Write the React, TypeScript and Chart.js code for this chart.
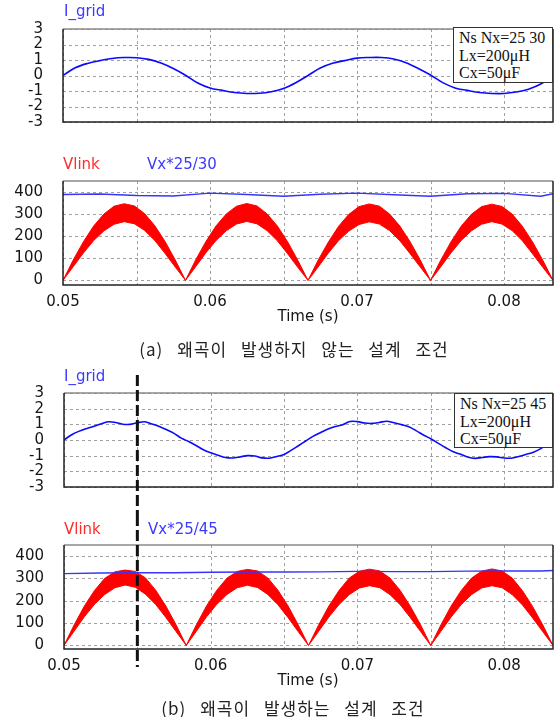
import React, { useEffect, useRef } from "react";
import { Chart, registerables } from "chart.js";

Chart.register(...registerables);

// ---------- axes ----------
const xMinS = 0.05;
const xMaxS = 0.083333;
const xGridTicks = [0.05, 0.055, 0.06, 0.065, 0.07, 0.075, 0.08];
const xTickLabels = ["0.05", "", "0.06", "", "0.07", "", "0.08"];
const iTicks = [-3, -2, -1, 0, 1, 2, 3];
const vTicks = [0, 100, 200, 300, 400];
const markerTimeS = 0.055;

// ---------- I_grid (a) ----------
const iGridATimesMs = [0, 0.833, 1.667, 2.5, 3.333, 4.167, 5, 5.833, 6.667, 7.5, 8.333, 9.167, 10, 10.833, 11.667, 12.5, 13.333, 14.167, 15, 15.833, 16.667, 17.5, 18.333, 19.167, 20, 20.833, 21.667, 22.5, 23.333, 24.167, 25, 25.833, 26.667, 27.5, 28.333, 29.167, 30, 30.833, 31.667, 32.5, 33.333];
const iGridA = [0, 0.5, 0.78, 0.96, 1.1, 1.16, 1.15, 1.04, 0.8, 0.45, 0.02, -0.48, -0.8, -0.96, -1.1, -1.16, -1.15, -1.05, -0.84, -0.47, 0.0, 0.48, 0.79, 0.96, 1.12, 1.16, 1.16, 1.06, 0.82, 0.45, 0.03, -0.46, -0.8, -0.96, -1.1, -1.16, -1.16, -1.07, -0.88, -0.55, 0.0];

// ---------- I_grid (b) ----------
const iGridBTimesMs = [0, 0.5, 1, 1.5, 2, 2.5, 3, 3.5, 4, 4.5, 5, 5.5, 6, 6.5, 7, 7.5, 8, 8.5, 9, 9.5, 10, 10.5, 11, 11.5, 12, 12.5, 13, 13.5, 14, 14.5, 15, 15.5, 16, 16.5, 17, 17.5, 18, 18.5, 19, 19.5, 20, 20.5, 21, 21.5, 22, 22.5, 23, 23.5, 24, 24.5, 25, 25.5, 26, 26.5, 27, 27.5, 28, 28.5, 29, 29.5, 30, 30.5, 31, 31.5, 32, 32.5, 33, 33.333];
const iGridB = [0, 0.32, 0.55, 0.72, 0.86, 1.02, 1.16, 1.12, 1.01, 1.0, 1.1, 1.16, 1.02, 0.86, 0.65, 0.42, 0.12, -0.1, -0.35, -0.62, -0.82, -0.98, -1.12, -1.15, -1.08, -1.0, -1.02, -1.14, -1.16, -1.05, -0.92, -0.65, -0.35, -0.05, 0.25, 0.48, 0.7, 0.86, 0.98, 1.18, 1.17, 1.08, 1.06, 1.12, 1.2, 1.1, 0.98, 0.85, 0.6, 0.32, 0.08, -0.2, -0.48, -0.74, -0.9, -1.08, -1.17, -1.12, -1.06, -1.08, -1.15, -1.16, -1.05, -0.92, -0.78, -0.55, -0.25, 0];

// ---------- Vlink envelopes ----------
const vlinkTimesMs = [0, 0.694, 1.389, 2.083, 2.778, 3.472, 4.167, 4.861, 5.556, 6.25, 6.944, 7.639, 8.333, 9.028, 9.722, 10.417, 11.111, 11.806, 12.5, 13.194, 13.889, 14.583, 15.278, 15.972, 16.667, 17.361, 18.056, 18.75, 19.444, 20.139, 20.833, 21.528, 22.222, 22.917, 23.611, 24.306, 25, 25.694, 26.389, 27.083, 27.778, 28.472, 29.167, 29.861, 30.556, 31.25, 31.944, 32.639, 33.333];
const vlinkUpperA = [0, 92, 175, 246, 300, 336, 347, 337, 302, 247, 176, 92, 0, 93, 176, 247, 301, 336, 348, 337, 301, 246, 175, 91, 0, 92, 174, 245, 299, 334, 346, 336, 300, 246, 175, 92, 0, 91, 174, 245, 299, 334, 345, 335, 300, 245, 174, 91, 0];
const vlinkLowerA = [0, 62, 124, 180, 224, 254, 266, 256, 226, 180, 122, 60, 0, 62, 125, 181, 225, 255, 267, 256, 225, 179, 121, 59, 0, 61, 124, 180, 223, 253, 265, 255, 225, 179, 121, 60, 0, 61, 124, 180, 224, 254, 266, 255, 225, 179, 120, 59, 0];
const vlinkUpperB = [0, 92, 176, 246, 300, 329, 337, 331, 302, 247, 176, 92, 0, 93, 177, 247, 301, 331, 340, 333, 302, 247, 176, 91, 0, 92, 176, 246, 301, 332, 341, 333, 301, 246, 175, 92, 0, 92, 176, 246, 301, 332, 342, 333, 301, 245, 174, 91, 0];
const vlinkLowerB = [0, 64, 128, 184, 228, 258, 270, 260, 229, 183, 125, 62, 0, 64, 128, 184, 228, 258, 269, 259, 228, 182, 124, 61, 0, 63, 127, 183, 227, 257, 267, 258, 227, 182, 124, 62, 0, 63, 127, 183, 227, 257, 267, 258, 227, 181, 123, 61, 0];

// ---------- Vx ----------
const vxTimesMs = [0, 2.5, 5, 7.5, 10, 12.5, 15, 17.5, 20, 22.5, 25, 27.5, 30, 32.5, 33.333];
const vxA = [389, 391, 384, 382, 395, 389, 381, 390, 395, 388, 381, 392, 394, 381, 392];
const vxB = [321, 324, 325, 325, 327, 328, 328, 329, 331, 330, 330, 332, 333, 333, 335];

const FONT = '"DejaVu Sans", sans-serif';

function pts(timesMs: number[], values: number[]) {
  return values.map((v, i) => ({ x: xMinS + timesMs[i] / 1000, y: v }));
}

const gridPlugin = {
  id: "dashgrid",
  beforeDatasetsDraw(chart: any) {
    const { left, top, right, bottom } = chart.chartArea;
    const ctx = chart.ctx;
    ctx.save();
    ctx.strokeStyle = "#a0a0a0";
    ctx.lineWidth = 1;
    ctx.setLineDash([3, 3]);
    for (const t of chart.scales.x.ticks) {
      const x = Math.round(chart.scales.x.getPixelForValue(t.value)) + 0.5;
      ctx.beginPath();
      ctx.moveTo(x, top);
      ctx.lineTo(x, bottom);
      ctx.stroke();
    }
    for (const t of chart.scales.y.ticks) {
      const y = Math.round(chart.scales.y.getPixelForValue(t.value)) + 0.5;
      ctx.beginPath();
      ctx.moveTo(left, y);
      ctx.lineTo(right, y);
      ctx.stroke();
    }
    ctx.restore();
  },
};

const framePlugin = {
  id: "frame",
  afterDraw(chart: any) {
    const { left, top, right, bottom } = chart.chartArea;
    const ctx = chart.ctx;
    ctx.save();
    ctx.lineWidth = 1.5;
    ctx.strokeStyle = "#8a8a8a";
    ctx.beginPath();
    ctx.moveTo(left, top);
    ctx.lineTo(right, top);
    ctx.stroke();
    ctx.strokeStyle = "#222";
    ctx.beginPath();
    ctx.moveTo(left, top);
    ctx.lineTo(left, bottom);
    ctx.lineTo(right, bottom);
    ctx.lineTo(right, top);
    ctx.stroke();
    ctx.restore();
  },
};

const markerPlugin = {
  id: "marker",
  afterDraw(chart: any, _args: any, opts: any) {
    if (!opts || opts.value == null) return;
    const x = chart.scales.x.getPixelForValue(opts.value);
    const ctx = chart.ctx;
    ctx.save();
    ctx.strokeStyle = "#111";
    ctx.lineWidth = 3;
    ctx.setLineDash([11, 4]);
    ctx.lineDashOffset = opts.offset || 0;
    ctx.beginPath();
    ctx.moveTo(x, opts.from);
    ctx.lineTo(x, opts.to == null ? chart.height : opts.to);
    ctx.stroke();
    ctx.restore();
  },
};

function buildConfig(p: {
  datasets: any[];
  yMin: number;
  yMax: number;
  yTicks: number[];
  axisWidth: number;
  padTop: number;
  padBottom: number;
  xAxisHeight: number;
  showX: boolean;
  marker?: any;
}) {
  const plugins: any[] = [gridPlugin, framePlugin];
  if (p.marker) plugins.push(markerPlugin);
  const gridCommon = { display: false, drawTicks: false };
  const borderCommon = { display: false };
  return {
    type: "line",
    data: { datasets: p.datasets },
    options: {
      responsive: false,
      maintainAspectRatio: false,
      animation: false,
      events: [],
      layout: { padding: { left: 0, right: 4, top: p.padTop, bottom: p.padBottom } },
      plugins: {
        legend: { display: false },
        tooltip: { enabled: false },
        marker: p.marker || {},
      },
      scales: {
        x: {
          type: "linear",
          min: xMinS,
          max: xMaxS,
          afterBuildTicks: (ax: any) => {
            ax.ticks = xGridTicks.map((v) => ({ value: v }));
          },
          afterFit: (ax: any) => {
            ax.height = p.xAxisHeight;
          },
          grid: gridCommon,
          border: borderCommon,
          ticks: {
            display: p.showX,
            autoSkip: false,
            maxRotation: 0,
            padding: 8,
            color: "#151515",
            font: { family: FONT, size: 15 },
            callback: (_v: any, i: number) => xTickLabels[i],
          },
        },
        y: {
          type: "linear",
          min: p.yMin,
          max: p.yMax,
          afterBuildTicks: (ax: any) => {
            ax.ticks = p.yTicks.map((v) => ({ value: v }));
          },
          afterFit: (ax: any) => {
            ax.width = p.axisWidth;
          },
          grid: gridCommon,
          border: borderCommon,
          ticks: {
            autoSkip: false,
            padding: 20,
            color: "#151515",
            font: { family: FONT, size: 15 },
            callback: (v: any) => String(v),
          },
        },
      },
    },
    plugins,
  };
}

function iGridDataset(times: number[], vals: number[]) {
  return {
    data: pts(times, vals),
    borderColor: "#0a0aff",
    borderWidth: 1.6,
    pointRadius: 0,
    tension: 0.35,
    fill: false,
  };
}

function vlinkDatasets(vx: number[], upper: number[], lower: number[]) {
  return [
    {
      data: pts(vxTimesMs, vx),
      borderColor: "#3535ff",
      borderWidth: 1.4,
      pointRadius: 0,
      tension: 0,
      fill: false,
    },
    {
      data: pts(vlinkTimesMs, upper),
      borderColor: "#ff0000",
      backgroundColor: "#ff0000",
      borderWidth: 1,
      pointRadius: 0,
      tension: 0,
      fill: "+1",
    },
    {
      data: pts(vlinkTimesMs, lower),
      borderColor: "#ff0000",
      borderWidth: 1,
      pointRadius: 0,
      tension: 0,
      fill: false,
    },
  ];
}

function ChartBox({ top, height, build }: { top: number; height: number; build: () => any }) {
  const ref = useRef<HTMLCanvasElement>(null);
  useEffect(() => {
    const chart = new Chart(ref.current as HTMLCanvasElement, build());
    return () => chart.destroy();
  }, []);
  return (
    <canvas
      ref={ref}
      width={557}
      height={height}
      style={{ position: "absolute", left: 0, top, width: 557, height }}
    />
  );
}

function Label({ text, left, cy, color }: { text: string; left: number; cy: number; color: string }) {
  return (
    <div
      style={{
        position: "absolute",
        left,
        top: cy - 9,
        font: `15px ${FONT}`,
        lineHeight: "18px",
        color,
        whiteSpace: "nowrap",
      }}
    >
      {text}
    </div>
  );
}

function Centered({ text, cx, cy, style }: { text: string; cx: number; cy: number; style: any }) {
  return (
    <div
      style={{
        position: "absolute",
        left: cx,
        top: cy - 12,
        lineHeight: "24px",
        transform: "translateX(-50%)",
        whiteSpace: "pre",
        ...style,
      }}
    >
      {text}
    </div>
  );
}

function ParamBox({ left, top, width, height, lines }: { left: number; top: number; width: number; height: number; lines: string[] }) {
  return (
    <div
      style={{
        position: "absolute",
        left,
        top,
        width,
        height,
        boxSizing: "border-box",
        border: "1.5px solid #333",
        background: "#fff",
        padding: "1px 0 0 5px",
        font: '16px "Liberation Serif", serif',
        lineHeight: "17.5px",
        color: "#111",
        whiteSpace: "nowrap",
      }}
    >
      {lines.map((l, i) => (
        <div key={i}>{l}</div>
      ))}
    </div>
  );
}

const captionStyle = {
  font: '17px "Noto Sans CJK KR", sans-serif',
  letterSpacing: "1px",
  wordSpacing: "9px",
  color: "#222",
};
const timeStyle = { font: `15px ${FONT}`, color: "#151515" };

export default function App() {
  return (
    <div
      style={{
        position: "fixed",
        left: 0,
        top: 0,
        width: 557,
        height: 717,
        background: "#fff",
        overflow: "hidden",
      }}
    >
      {/* (a) I_grid */}
      <ChartBox
        top={0}
        height={151}
        build={() =>
          buildConfig({
            datasets: [iGridDataset(iGridATimesMs, iGridA)],
            yMin: -3,
            yMax: 3,
            yTicks: iTicks,
            axisWidth: 63,
            padTop: 27,
            padBottom: 12,
            xAxisHeight: 0,
            showX: false,
          })
        }
      />
      {/* (a) Vlink */}
      <ChartBox
        top={150}
        height={165}
        build={() =>
          buildConfig({
            datasets: vlinkDatasets(vxA, vlinkUpperA, vlinkLowerA),
            yMin: -21,
            yMax: 450,
            yTicks: vTicks,
            axisWidth: 63,
            padTop: 31,
            padBottom: 0,
            xAxisHeight: 30,
            showX: true,
          })
        }
      />
      {/* (b) I_grid */}
      <ChartBox
        top={360}
        height={156}
        build={() =>
          buildConfig({
            datasets: [iGridDataset(iGridBTimesMs, iGridB)],
            yMin: -3,
            yMax: 3,
            yTicks: iTicks,
            axisWidth: 64,
            padTop: 33,
            padBottom: 12,
            xAxisHeight: 0,
            showX: false,
            marker: { value: markerTimeS, from: 15, to: null, offset: 0 },
          })
        }
      />
      {/* (b) Vlink */}
      <ChartBox
        top={516}
        height={163}
        build={() =>
          buildConfig({
            datasets: vlinkDatasets(vxB, vlinkUpperB, vlinkLowerB),
            yMin: -16,
            yMax: 449,
            yTicks: vTicks,
            axisWidth: 64,
            padTop: 29,
            padBottom: 0,
            xAxisHeight: 30,
            showX: true,
            marker: { value: markerTimeS, from: 0, to: 151, offset: 1 },
          })
        }
      />

      <Label text="I_grid" left={64} cy={11} color="#3a3aff" />
      <Label text="Vlink" left={63} cy={164} color="#ff2a2a" />
      <Label text="Vx*25/30" left={147} cy={164} color="#3a3aff" />
      <ParamBox left={453} top={27} width={100} height={56} lines={["Ns Nx=25 30", "Lx=200μH", "Cx=50μF"]} />
      <Centered text="Time (s)" cx={308} cy={319} style={timeStyle} />
      <Centered text="(a) 왜곡이 발생하지 않는 설계 조건" cx={294} cy={348} style={captionStyle} />

      <Label text="I_grid" left={64} cy={376} color="#3a3aff" />
      <Label text="Vlink" left={64} cy={529} color="#ff2a2a" />
      <Label text="Vx*25/45" left={148} cy={529} color="#3a3aff" />
      <ParamBox left={454} top={393} width={99} height={55} lines={["Ns Nx=25 45", "Lx=200μH", "Cx=50μF"]} />
      <Centered text="Time (s)" cx={308} cy={683} style={timeStyle} />
      <Centered text="(b) 왜곡이 발생하는 설계 조건" cx={293} cy={707} style={captionStyle} />
    </div>
  );
}
